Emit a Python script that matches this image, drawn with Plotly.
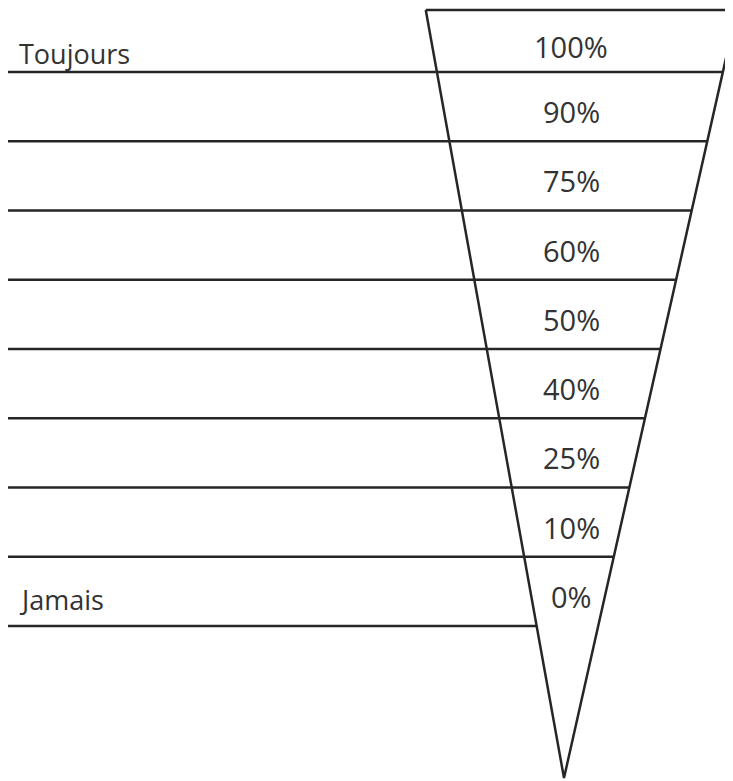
import plotly.graph_objects as go

# Data
levels = ["100%", "90%", "75%", "60%", "50%", "40%", "25%", "10%", "0%"]
end_labels = ["Toujours", "Jamais"]

PAGE_W, PAGE_H = 733, 781
OFF = 8  # page body margin compensation
W, H = PAGE_W - OFF, PAGE_H - OFF
top_y = 10
apex = (564, 778)
slope_left = 0.18
slope_right = 0.225
first_line = 72
step = 69.25
line_col = "#262626"
txt_col = "#333333"
font_family = "Open Sans, Lato, sans-serif"


def left_x(y):
    return apex[0] - slope_left * (apex[1] - y)


def right_x(y):
    return apex[0] + slope_right * (apex[1] - y)


fig = go.Figure()

# triangle
tx = [left_x(top_y), apex[0], right_x(top_y), left_x(top_y)]
ty = [top_y, apex[1], top_y, top_y]
fig.add_trace(go.Scatter(x=tx, y=ty, mode="lines",
                         line=dict(color=line_col, width=2.5),
                         hoverinfo="skip", showlegend=False))

n = len(levels)
line_ys = [first_line + i * step for i in range(n)]
for i, y in enumerate(line_ys):
    xe = right_x(y) if i < n - 1 else left_x(y)
    fig.add_trace(go.Scatter(x=[8, xe], y=[y, y], mode="lines",
                             line=dict(color=line_col, width=2.5),
                             hoverinfo="skip", showlegend=False))

# percentage labels
band_tops = [top_y] + line_ys[:-1]
for i, lab in enumerate(levels):
    yc = (band_tops[i] + line_ys[i]) / 2 + 5
    fig.add_annotation(x=571, y=yc, text=lab, showarrow=False,
                       xanchor="center", yanchor="middle",
                       font=dict(family=font_family, size=29, color=txt_col))

# end labels
fig.add_annotation(x=17, y=line_ys[0] - 19, text=end_labels[0], showarrow=False,
                   xanchor="left", yanchor="middle",
                   font=dict(family=font_family, size=27, color=txt_col))
fig.add_annotation(x=17, y=line_ys[-1] - 27, text=end_labels[1], showarrow=False,
                   xanchor="left", yanchor="middle",
                   font=dict(family=font_family, size=27, color=txt_col))

fig.update_layout(
    width=W, height=H,
    margin=dict(l=0, r=0, t=0, b=0),
    paper_bgcolor="white", plot_bgcolor="white",
    xaxis=dict(range=[OFF, PAGE_W], visible=False, fixedrange=True),
    yaxis=dict(range=[PAGE_H, OFF], visible=False, fixedrange=True),
    showlegend=False,
)

fig.write_html("out.html")
